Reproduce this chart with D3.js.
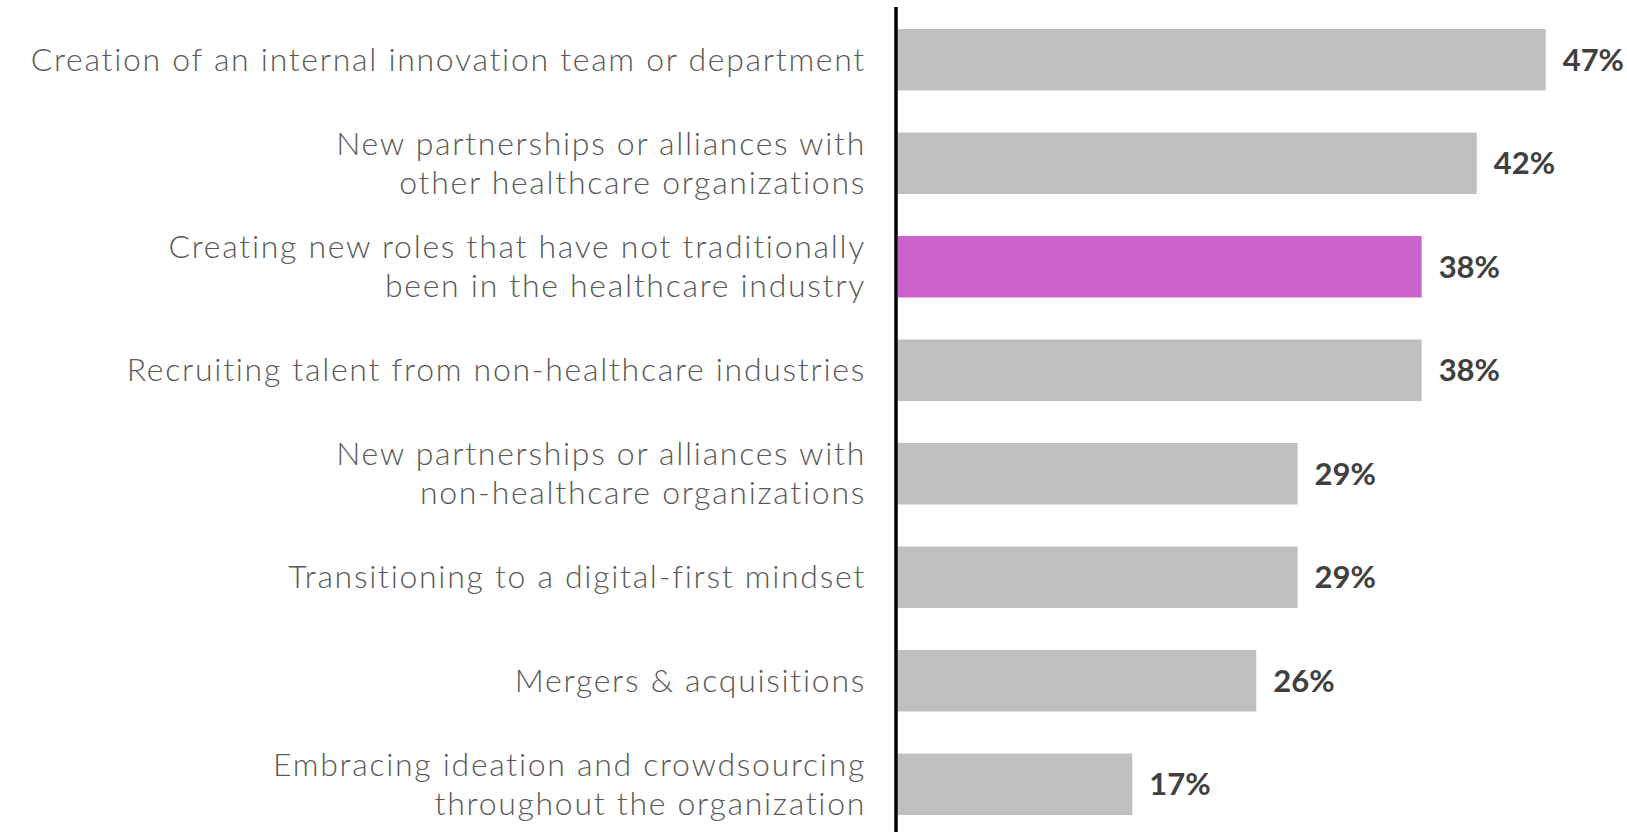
<!DOCTYPE html>
<html>
<head>
<meta charset="utf-8">
<script src="https://cdn.jsdelivr.net/npm/d3@7"></script>
<style>
  body { margin: 0; background: #fff; }
</style>
</head>
<body>
<div id="chart"></div>
<script>
  // data
  var categories = [
    ['Creation of an internal innovation team or department'],
    ['New partnerships or alliances with', 'other healthcare organizations'],
    ['Creating new roles that have not traditionally', 'been in the healthcare industry'],
    ['Recruiting talent from non-healthcare industries'],
    ['New partnerships or alliances with', 'non-healthcare organizations'],
    ['Transitioning to a digital-first mindset'],
    ['Mergers & acquisitions'],
    ['Embracing ideation and crowdsourcing', 'throughout the organization']
  ]
  var values = [47, 42, 38, 38, 29, 29, 26, 17]
  var highlighted = [false, false, true, false, false, false, false, false]

  var W = 1627, H = 832
  var axisX = 896

  var svg = d3.select('#chart').append('svg')
    .attr('width', W)
    .attr('height', H)

  var ids = categories.map((d, i) => i)

  var yScale = d3.scaleBand().domain(ids).range([8, 836])
    .paddingInner(0.406).paddingOuter(0.203)

  var xScale = d3.scaleLinear().domain([0, 50]).range([axisX + 2, axisX + 2 + 689])

  // bars
  svg.selectAll('rect.bar').data(values).enter().append('rect')
    .attr('class', 'bar')
    .attr('x', xScale(0))
    .attr('y', (d, i) => yScale(i))
    .attr('width', d => xScale(d) - xScale(0))
    .attr('height', yScale.bandwidth())
    .attr('fill', (d, i) => highlighted[i] ? '#cc63cc' : '#bfbfbf')

  // value labels
  svg.selectAll('text.val').data(values).enter().append('text')
    .attr('class', 'val')
    .attr('x', d => xScale(d) + 17)
    .attr('y', (d, i) => yScale(i) + yScale.bandwidth() / 2)
    .attr('dy', '0.36em')
    .attr('font-family', 'Lato, sans-serif')
    .attr('font-weight', 'bold')
    .attr('font-size', 31)
    .attr('fill', '#404040')
    .text(d => d + '%')

  // category labels
  var lineGap = 39
  var labels = svg.selectAll('text.cat').data(categories).enter().append('text')
    .attr('class', 'cat')
    .attr('text-anchor', 'end')
    .attr('font-family', 'Lato, sans-serif')
    .attr('font-weight', 300)
    .attr('font-size', 32)
    .attr('letter-spacing', 1.7)
    .attr('fill', '#595959')

  labels.each(function(lines, i) {
    var cy = yScale(i) + yScale.bandwidth() / 2
    var t = d3.select(this)
    lines.forEach(function(line, j) {
      t.append('tspan')
        .attr('x', 866)
        .attr('y', cy + (j - (lines.length - 1) / 2) * lineGap)
        .attr('dy', '0.35em')
        .text(line)
    })
  })

  // vertical axis line
  svg.append('line')
    .attr('x1', axisX).attr('x2', axisX)
    .attr('y1', 7).attr('y2', H)
    .attr('stroke', '#000')
    .attr('stroke-width', 3.5)
</script>
</body>
</html>
